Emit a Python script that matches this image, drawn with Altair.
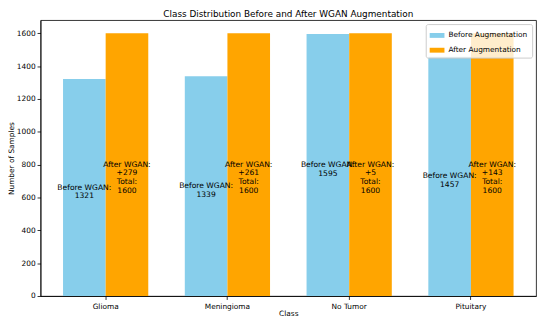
import altair as alt
import pandas as pd

classes = ["Glioma", "Meningioma", "No Tumor", "Pituitary"]
before = [1321, 1339, 1595, 1457]
after = [1600, 1600, 1600, 1600]
series = ["Before Augmentation", "After Augmentation"]
colors = ["#87CEEB", "#FFA500"]

rows = []
for c, b, a in zip(classes, before, after):
    rows.append({"Class": c, "Series": series[0], "Value": b,
                 "LabelY": b / 2, "Label": f"Before WGAN:\n{b}"})
    rows.append({"Class": c, "Series": series[1], "Value": a,
                 "LabelY": a / 2, "Label": f"After WGAN:\n+{a - b}\nTotal:\n{a}"})
df = pd.DataFrame(rows)

y_axis = alt.Axis(values=list(range(0, 1601, 200)), format="d",
                  labelOverlap=False, titleX=-25, title="Number of Samples")
y_scale = alt.Scale(domain=[0, 1680], nice=False, zero=True)

x_enc = alt.X("Class:N", sort=classes, title="Class",
              scale=alt.Scale(paddingInner=0.3, paddingOuter=0.185),
              axis=alt.Axis(labelAngle=0, titleY=14, labelPadding=3))
xo_enc = alt.XOffset("Series:N", sort=series,
                     scale=alt.Scale(domain=series, paddingInner=0, paddingOuter=0))

bars = alt.Chart(df).mark_bar().encode(
    x=x_enc,
    xOffset=xo_enc,
    y=alt.Y("Value:Q", scale=y_scale, axis=y_axis),
    color=alt.Color("Series:N", sort=series,
                    scale=alt.Scale(domain=series, range=colors),
                    legend=alt.Legend(title=None, orient="top-right", offset=4,
                                      symbolType="M-1,-0.33H1V0.33H-1Z",
                                      symbolSize=225, symbolStrokeWidth=0,
                                      padding=4, rowPadding=4,
                                      fillColor="rgba(255,255,255,0.8)",
                                      strokeColor="#cccccc", cornerRadius=2)),
)

texts = alt.Chart(df).mark_text(fontSize=7.7, lineBreak="\n", lineHeight=9,
                                baseline="middle", align="center",
                                color="black", font="DejaVu Sans").encode(
    x=alt.X("Class:N", sort=classes, title="Class"),
    xOffset=alt.XOffset("Series:N", sort=series),
    y=alt.Y("LabelY:Q", scale=y_scale, axis=y_axis),
    text="Label:N",
)

chart = (bars + texts).properties(
    width=503, height=280,
    title=alt.Title("Class Distribution Before and After WGAN Augmentation",
                    fontSize=9, fontWeight="normal", font="DejaVu Sans",
                    offset=1, color="black"),
    autosize=alt.AutoSizeParams(type="none"),
    padding={"left": 33, "top": 10, "right": 6, "bottom": 22},
).configure_axis(
    labelFont="DejaVu Sans", titleFont="DejaVu Sans",
    labelFontSize=7.5, titleFontSize=7.5,
    labelColor="black", titleColor="black",
    titleFontWeight="normal",
    grid=False, domainColor="black", tickColor="black",
    tickSize=3.5, domainWidth=0.8, tickWidth=0.8,
).configure_legend(
    labelFont="DejaVu Sans", labelFontSize=7.5, labelColor="black",
).configure_view(
    stroke="black", strokeWidth=0.8,
)

chart.save("out.html", embed_options={"renderer": "svg", "actions": False})
